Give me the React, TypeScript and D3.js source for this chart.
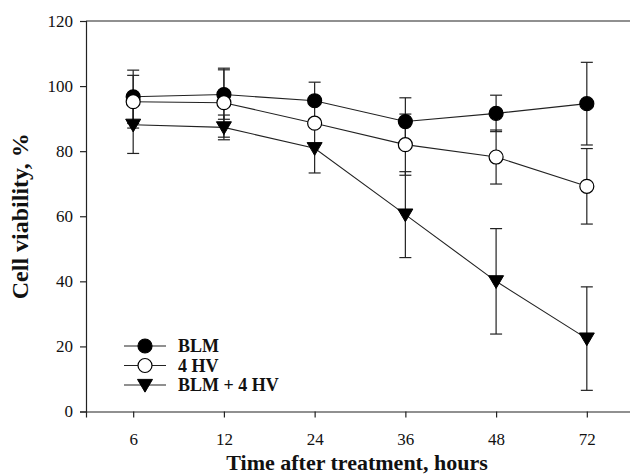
import React, { useEffect, useRef } from 'react';
import * as d3 from 'd3';

const hours = ['6', '12', '24', '36', '48', '72'];
const blm = [96.7, 97.4, 95.5, 89.1, 91.6, 94.6];
const blmErr = [8.2, 7.6, 5.7, 7.3, 5.6, 12.7];
const hv = [95.2, 94.9, 88.6, 82.0, 78.2, 69.2];
const hvErr = [8.1, 10.6, 1.2, 9.4, 8.3, 11.6];
const combo = [88.1, 87.3, 80.9, 60.5, 40.0, 22.4];
const comboErr = [8.8, 3.8, 7.6, 13.2, 16.2, 15.9];
const yTicks = [0, 20, 40, 60, 80, 100, 120];

const legendLabels = ['BLM', '4 HV', 'BLM + 4 HV'];

const W = 630;
const H = 475;
const FONT = '"Liberation Serif", "Times New Roman", serif';

export default function App() {
  const svgRef = useRef<SVGSVGElement>(null);

  useEffect(() => {
    if (!svgRef.current) return;
    const svg = d3.select(svgRef.current);
    svg.selectAll('*').remove();

    const left = 86, top = 21, bottom = 411.5, right = 634;

    const x = d3.scalePoint<string>().domain(hours).range([left, right]).padding(0.52);
    const y = d3.scaleLinear().domain([0, 120]).range([bottom, top]);

    // frame (top + right) and axes
    svg.append('path')
      .attr('d', `M${left},${top}H${right}V${bottom}`)
      .attr('fill', 'none').attr('stroke', '#222').attr('stroke-width', 1.2);

    const yAxis = svg.append('g').attr('transform', `translate(${left},0)`)
      .call(d3.axisLeft(y).tickValues(yTicks).tickSize(6).tickPadding(7))
      .attr('font-family', FONT);
    yAxis.select('.domain').attr('stroke', '#222').attr('stroke-width', 1.2);
    yAxis.selectAll('line').attr('stroke', '#222').attr('stroke-width', 1.2);
    yAxis.selectAll('text').attr('font-family', FONT).attr('font-size', 17).attr('fill', '#111');

    const xAxis = svg.append('g').attr('transform', `translate(0,${bottom})`)
      .call(d3.axisBottom(x).tickSize(6).tickPadding(15))
      .attr('font-family', FONT);
    xAxis.select('.domain').attr('stroke', '#222').attr('stroke-width', 1.2);
    xAxis.selectAll('line').attr('stroke', '#222').attr('stroke-width', 1.2);
    xAxis.selectAll('text').attr('font-family', FONT).attr('font-size', 17).attr('fill', '#111');

    // titles
    svg.append('text')
      .attr('x', 357).attr('y', 470)
      .attr('text-anchor', 'middle')
      .attr('font-family', FONT).attr('font-weight', 'bold').attr('font-size', 22)
      .attr('fill', '#111')
      .text('Time after treatment, hours');

    svg.append('text')
      .attr('transform', `translate(28,${(top + bottom) / 2}) rotate(-90)`)
      .attr('text-anchor', 'middle')
      .attr('font-family', FONT).attr('font-weight', 'bold').attr('font-size', 24)
      .attr('fill', '#111')
      .text('Cell viability, %');

    const series = [
      { vals: blm, err: blmErr, kind: 'filled' },
      { vals: hv, err: hvErr, kind: 'open' },
      { vals: combo, err: comboErr, kind: 'tri' },
    ];

    const line = d3.line<number>()
      .x((_, i) => x(hours[i]) as number)
      .y(d => y(d));

    const drawMarker = (g: any, kind: string, cx: number, cy: number) => {
      if (kind === 'tri') {
        const s = 7.5;
        g.append('path')
          .attr('d', `M${cx - s},${cy - s * 0.75}L${cx + s},${cy - s * 0.75}L${cx},${cy + s * 0.95}Z`)
          .attr('fill', '#000').attr('stroke', '#000').attr('stroke-width', 1);
      } else {
        g.append('circle')
          .attr('cx', cx).attr('cy', cy).attr('r', 7)
          .attr('fill', kind === 'filled' ? '#000' : '#fff')
          .attr('stroke', '#000').attr('stroke-width', 1.2);
      }
    };

    // error bars
    const errG = svg.append('g');
    series.forEach(s => {
      s.vals.forEach((v, i) => {
        const cx = x(hours[i]) as number;
        const hi = y(v + s.err[i]);
        const lo = y(v - s.err[i]);
        errG.append('line').attr('x1', cx).attr('x2', cx).attr('y1', hi).attr('y2', lo)
          .attr('stroke', '#222').attr('stroke-width', 1.2);
        [hi, lo].forEach(yy => {
          errG.append('line').attr('x1', cx - 6).attr('x2', cx + 6).attr('y1', yy).attr('y2', yy)
            .attr('stroke', '#222').attr('stroke-width', 1.2);
        });
      });
    });

    // lines
    series.forEach(s => {
      svg.append('path')
        .attr('d', line(s.vals) as string)
        .attr('fill', 'none').attr('stroke', '#222').attr('stroke-width', 1.1);
    });

    // markers
    const markG = svg.append('g');
    series.forEach(s => {
      s.vals.forEach((v, i) => drawMarker(markG, s.kind, x(hours[i]) as number, y(v)));
    });

    // legend
    const leg = svg.append('g');
    legendLabels.forEach((lab, i) => {
      const ly = 346 + i * 19.5;
      leg.append('line').attr('x1', 124).attr('x2', 166).attr('y1', ly).attr('y2', ly)
        .attr('stroke', '#222').attr('stroke-width', 1.1);
      drawMarker(leg, series[i].kind, 145, ly);
      leg.append('text')
        .attr('x', 178).attr('y', ly + 6)
        .attr('font-family', FONT).attr('font-weight', 'bold').attr('font-size', 18)
        .attr('fill', '#111')
        .text(lab);
    });
  }, []);

  return (
    <svg
      ref={svgRef}
      width={W}
      height={H}
      style={{ position: 'absolute', left: 0, top: 0, background: '#fff' }}
    />
  );
}
